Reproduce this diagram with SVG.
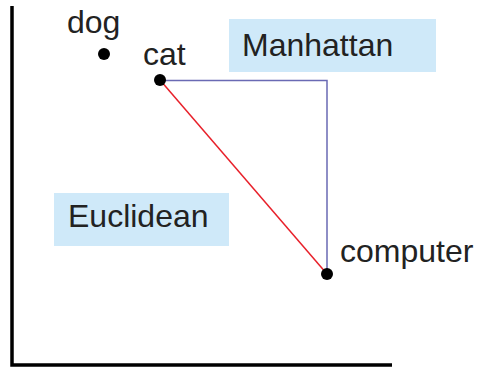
<svg xmlns="http://www.w3.org/2000/svg" width="480" height="367" viewBox="0 0 480 367">
<style>
.lbl{font-family:"Liberation Sans",Arial,sans-serif;font-size:32px;fill:#222}
.box{fill:#cfe9f9}
.dot{fill:#000}
</style>
<rect width="480" height="367" fill="#fff"/>
<g id="axes" stroke="#000" stroke-width="3.5" fill="none">
<polyline points="12,6 12,365 392,365"/>
</g>
<g id="connectors" fill="none">
<polyline points="160,80.5 327,80.5 327,274" stroke="#6a6ab4" stroke-width="1.5"/>
<line x1="160" y1="80" x2="327" y2="274" stroke="#e8202a" stroke-width="1.5"/>
</g>
<g id="manhattan"><rect class="box" x="229" y="19" width="207" height="53"/><text class="lbl" x="242" y="56">Manhattan</text></g>
<g id="euclidean"><rect class="box" x="54" y="193" width="175" height="53"/><text class="lbl" x="68" y="227">Euclidean</text></g>
<g id="dog"><circle class="dot" cx="104" cy="54" r="6"/><text class="lbl" x="67" y="33">dog</text></g>
<g id="cat"><circle class="dot" cx="160" cy="80" r="6"/><text class="lbl" x="143" y="65">cat</text></g>
<g id="computer"><circle class="dot" cx="327" cy="274" r="6"/><text class="lbl" x="340" y="262">computer</text></g>
</svg>
